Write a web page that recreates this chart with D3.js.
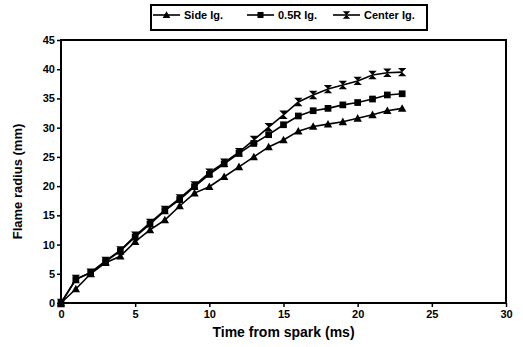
<!DOCTYPE html>
<meta charset="utf-8">
<body style="margin:0;background:#fff">
<script src="https://cdn.jsdelivr.net/npm/d3@7"></script>
<script>

var width = 523,
    height = 347;

// data (time in ms, radius in mm)
var times = d3.range(0, 24);
var sideIg   = [0, 2.4, 5.0, 6.9, 8.0, 10.5, 12.5, 14.2, 16.6, 18.8, 19.9, 21.6, 23.3, 25.0, 26.7, 27.9, 29.4, 30.2, 30.6, 31.0, 31.6, 32.2, 32.9, 33.3];
var halfRIg  = [0, 4.0, 5.2, 7.1, 8.9, 11.3, 13.5, 15.8, 17.7, 19.9, 22.0, 23.8, 25.6, 27.3, 28.8, 30.5, 32.0, 32.9, 33.3, 33.9, 34.3, 34.9, 35.6, 35.8];
var centerIg = [0, 4.1, 5.2, 7.2, 9.0, 11.5, 13.7, 15.9, 17.9, 20.1, 22.3, 24.0, 25.8, 27.9, 30.1, 32.2, 34.4, 35.6, 36.6, 37.3, 38.0, 39.0, 39.4, 39.5];
var seriesNames = ["Side Ig.", "0.5R Ig.", "Center Ig."];
var xTicks = [0, 5, 10, 15, 20, 25, 30];
var yTicks = [0, 5, 10, 15, 20, 25, 30, 35, 40, 45];

var series = [
  {name: seriesNames[0], values: sideIg,   marker: "tri"},
  {name: seriesNames[1], values: halfRIg,  marker: "sq"},
  {name: seriesNames[2], values: centerIg, marker: "bow"}
];

var plotLeft = 61, plotRight = 506, plotTop = 40, plotBottom = 303;

var x = d3.scaleLinear().domain([0, 30]).range([plotLeft, plotRight]);
var y = d3.scaleLinear().domain([0, 45]).range([plotBottom, plotTop]);

var svg = d3.select("body").append("svg")
    .attr("width", width)
    .attr("height", height)
    .style("font-family", "'Liberation Sans', Arial, sans-serif");

function markerPath(type, s) {
  if (type == "tri") return "M0," + (-s) + "L" + s + "," + (s * 0.8) + "L" + (-s) + "," + (s * 0.8) + "Z";
  if (type == "sq") return "M" + (-s * 0.8) + "," + (-s * 0.8) + "h" + (s * 1.6) + "v" + (s * 1.6) + "h" + (-s * 1.6) + "Z";
  return "M" + (-s) + "," + (-s) + "L" + s + "," + (-s) + "L" + (-s) + "," + s + "L" + s + "," + s + "Z";
}

// frame
svg.append("rect")
    .attr("x", plotLeft).attr("y", plotTop)
    .attr("width", plotRight - plotLeft).attr("height", plotBottom - plotTop)
    .attr("fill", "none").attr("stroke", "#000").attr("stroke-width", 2);

var xAxis = svg.append("g")
    .attr("transform", "translate(0," + plotBottom + ")")
    .call(d3.axisBottom(x).tickValues(xTicks).tickSize(4).tickPadding(3));
var yAxis = svg.append("g")
    .attr("transform", "translate(" + plotLeft + ",0)")
    .call(d3.axisLeft(y).tickValues(yTicks).tickSize(4).tickPadding(2));

[xAxis, yAxis].forEach(function(g) {
  g.select(".domain").remove();
  g.selectAll("line").attr("stroke", "#000").attr("stroke-width", 1.5);
  g.selectAll("text")
      .attr("fill", "#000")
      .style("font-size", "11px")
      .style("font-weight", "bold");
});

var line = d3.line()
    .x(function(d, i) { return x(times[i]); })
    .y(function(d) { return y(d); });

series.forEach(function(s) {
  svg.append("path")
      .datum(s.values)
      .attr("d", line)
      .attr("fill", "none")
      .attr("stroke", "#000")
      .attr("stroke-width", 1.6);
  svg.selectAll(null)
      .data(s.values)
      .enter().append("path")
      .attr("transform", function(d, i) { return "translate(" + x(times[i]) + "," + y(d) + ")"; })
      .attr("d", markerPath(s.marker, 4.2))
      .attr("fill", "#000");
});

// axis titles
svg.append("text")
    .attr("x", (plotLeft + plotRight) / 2)
    .attr("y", 337)
    .attr("text-anchor", "middle")
    .style("font-size", "14px")
    .style("font-weight", "bold")
    .text("Time from spark (ms)");

svg.append("text")
    .attr("transform", "translate(22," + ((plotTop + plotBottom) / 2 + 10) + ") rotate(-90)")
    .attr("text-anchor", "middle")
    .style("font-size", "13px")
    .style("font-weight", "bold")
    .text("Flame radius (mm)");

// legend
svg.append("rect")
    .attr("x", 151).attr("y", 5)
    .attr("width", 276).attr("height", 25)
    .attr("fill", "#fff").attr("stroke", "#000").attr("stroke-width", 2);

var legendX = [153, 247, 333];
series.forEach(function(s, i) {
  var g = svg.append("g").attr("transform", "translate(" + legendX[i] + ",15)");
  g.append("line").attr("x1", 0).attr("x2", 27)
      .attr("stroke", "#000").attr("stroke-width", 1.6);
  g.append("path").attr("transform", "translate(13.5,0)")
      .attr("d", markerPath(s.marker, 3.8)).attr("fill", "#000");
  g.append("text").attr("x", 31).attr("y", 4)
      .style("font-size", "11px").style("font-weight", "bold")
      .text(s.name);
});

</script>
</body>
